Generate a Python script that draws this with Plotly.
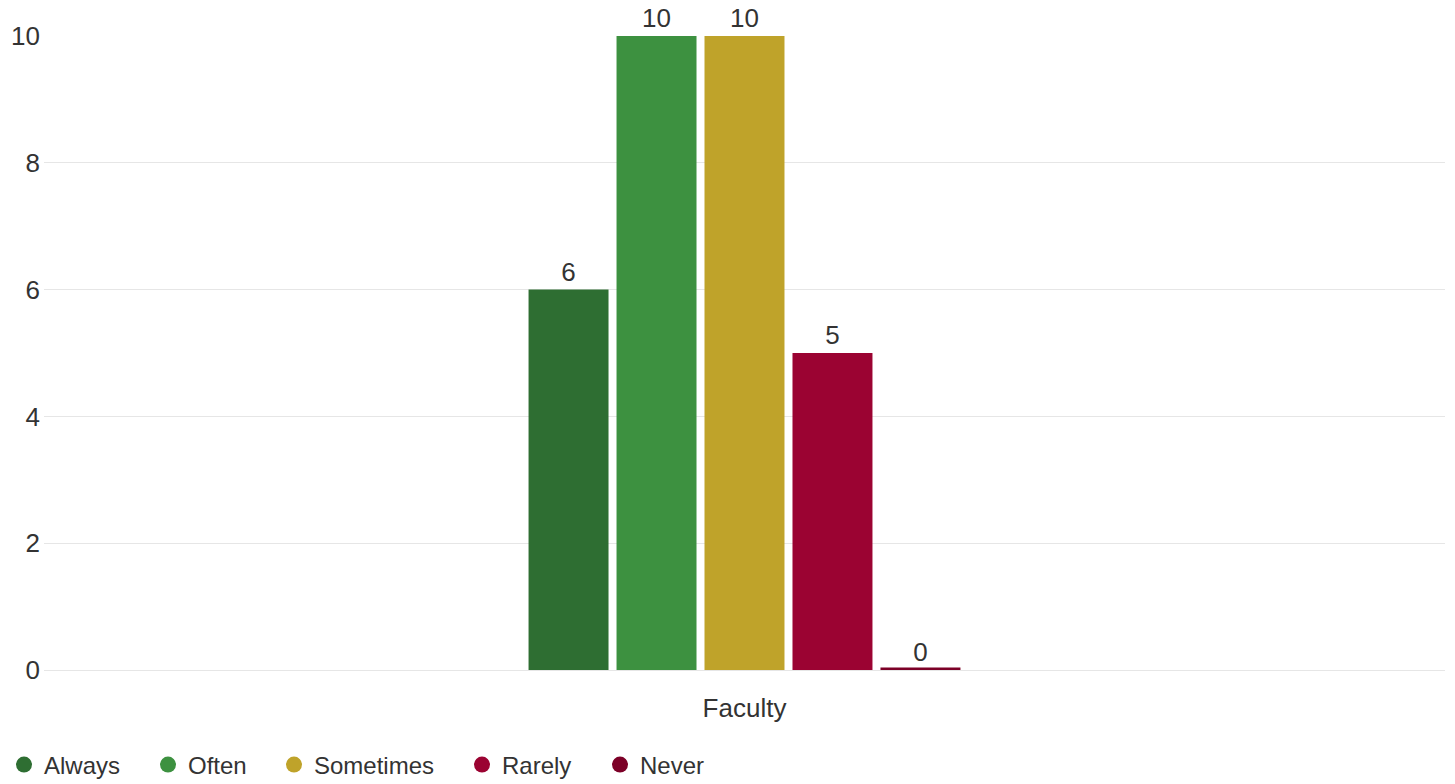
import plotly.graph_objects as go

categories = ["Faculty"]
series_names = ["Always", "Often", "Sometimes", "Rarely", "Never"]
series_values = [[6], [10], [10], [5], [0]]
series_colors = ["#2e6e32", "#3d9140", "#bfa32a", "#9b0332", "#7c0027"]
y_ticks = [0, 2, 4, 6, 8, 10]
legend_circle_x = [23, 167, 293, 481, 619]  # px positions of legend symbols

font_family = "Liberation Sans, Arial, sans-serif"
text_color = "#333333"
fs = 26
fig_w, fig_h = 1455, 784

fig = go.Figure()
for name, vals, col in zip(series_names, series_values, series_colors):
    fig.add_trace(go.Bar(
        x=categories, y=vals, name=name,
        marker=dict(color=col, line=dict(color=col, width=5 if max(vals) == 0 else 0)),
        text=[str(v) for v in vals], textposition="outside",
        textfont=dict(size=fs, color=text_color, family=font_family),
        cliponaxis=False, showlegend=False,
    ))

legend_layouts = {}
for i, (name, col, cx) in enumerate(zip(series_names, series_colors, legend_circle_x)):
    key = "legend" if i == 0 else f"legend{i + 1}"
    fig.add_trace(go.Scatter(
        x=[None], y=[None], name=name, mode="markers",
        marker=dict(color=col, size=19, symbol="circle"),
        legend=key,
    ))
    legend_layouts[key] = dict(
        orientation="h", xref="container", yref="container",
        x=(cx - 19) / fig_w, xanchor="left",
        y=1 - 765 / fig_h, yanchor="middle",
        font=dict(size=24, color=text_color, family=font_family),
        bgcolor="rgba(0,0,0,0)", itemsizing="trace",
    )

fig.update_layout(
    width=fig_w, height=fig_h,
    margin=dict(l=44, r=10, t=36, b=fig_h - 670, autoexpand=False),
    paper_bgcolor="white", plot_bgcolor="white",
    barmode="group", bargap=0.686, bargroupgap=0.091,
    font=dict(family=font_family, size=fs, color=text_color),
    showlegend=True,
    xaxis=dict(showgrid=False, showline=False, zeroline=False, automargin=False,
               ticks="outside", ticklen=15, tickcolor="rgba(0,0,0,0)",
               tickfont=dict(size=fs, color=text_color)),
    yaxis=dict(range=[0, 10], tickvals=y_ticks, showgrid=True, gridcolor="#e6e6e6",
               gridwidth=1, zeroline=True, zerolinecolor="#e6e6e6", zerolinewidth=1,
               showline=False, automargin=False, tickfont=dict(size=fs, color=text_color),
               ticklabelstandoff=3),
    **legend_layouts,
)

fig.write_html("out.html", config={"displayModeBar": False},
               post_script="document.body.style.margin='0';")
